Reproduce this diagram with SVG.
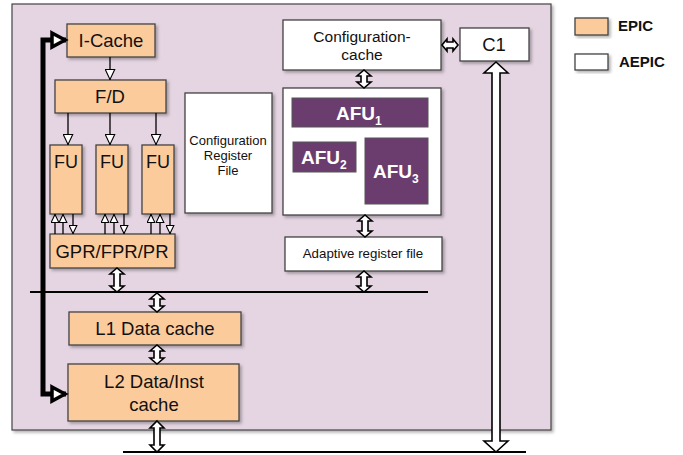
<svg xmlns="http://www.w3.org/2000/svg" width="683" height="455" viewBox="0 0 683 455">
<defs>
<filter id="sh" x="-10%" y="-10%" width="130%" height="130%">
<feDropShadow dx="2" dy="2" stdDeviation="1.5" flood-color="#000" flood-opacity="0.3"/>
</filter>
<marker id="tri" viewBox="0 0 10 10" refX="10" refY="5" markerWidth="11" markerHeight="11" markerUnits="userSpaceOnUse" orient="auto">
<path d="M0.5,0.7 L9.5,5 L0.5,9.3 Z" fill="#fff" stroke="#000" stroke-width="1"/>
</marker>
<marker id="trs" viewBox="0 0 10 10" refX="10" refY="5" markerWidth="9" markerHeight="9" markerUnits="userSpaceOnUse" orient="auto">
<path d="M0.5,0.7 L9.5,5 L0.5,9.3 Z" fill="#fff" stroke="#000" stroke-width="1.2"/>
</marker>
</defs>
<style>
.bg{fill:#E5D5E2;stroke:#444;stroke-width:1.2}
.epic{fill:#FCCB9C;stroke:#444;stroke-width:1.3}
.aepic{fill:#fff;stroke:#444;stroke-width:1.3}
.afu{fill:#6B3C6E;stroke:#555;stroke-width:1}
.t{font-family:"Liberation Sans",Arial,sans-serif;fill:#111;text-anchor:middle}
.w{font-family:"Liberation Sans",Arial,sans-serif;fill:#fff;font-weight:bold}
.b{font-family:"Liberation Sans",Arial,sans-serif;fill:#111;font-weight:bold}
.da{fill:#fff;stroke:#000;stroke-width:1.6;stroke-linejoin:miter}
.ln{stroke:#000;stroke-width:1.3;fill:none}
</style>
<rect class="bg" x="12" y="4" width="539" height="426" filter="url(#sh)"/>

<g id="icache"><rect class="epic" x="67" y="24" width="88" height="33" filter="url(#sh)"/><text class="t" x="111" y="47" font-size="18.5">I-Cache</text></g>
<g id="fd"><rect class="epic" x="55" y="80" width="111" height="33" filter="url(#sh)"/><text class="t" x="110" y="103" font-size="18.5">F/D</text></g>
<g id="fu1"><rect class="epic" x="50" y="145" width="32" height="69" filter="url(#sh)"/><text class="t" x="66" y="168" font-size="18">FU</text></g>
<g id="fu2"><rect class="epic" x="96" y="145" width="32" height="69" filter="url(#sh)"/><text class="t" x="112" y="168" font-size="18">FU</text></g>
<g id="fu3"><rect class="epic" x="142" y="145" width="32" height="69" filter="url(#sh)"/><text class="t" x="158" y="168" font-size="18">FU</text></g>
<g id="gpr"><rect class="epic" x="50" y="234" width="125" height="34" filter="url(#sh)"/><text class="t" x="112" y="258" font-size="18.5">GPR/FPR/PR</text></g>
<g id="l1"><rect class="epic" x="69" y="312" width="172" height="33" filter="url(#sh)"/><text class="t" x="155" y="335" font-size="18.5">L1 Data cache</text></g>
<g id="l2"><rect class="epic" x="68" y="364" width="171" height="57" filter="url(#sh)"/><text class="t" x="154" y="388" font-size="18.5">L2 Data/Inst</text><text class="t" x="154" y="411" font-size="18.5">cache</text></g>
<g id="crf"><rect class="aepic" x="185" y="93" width="87" height="120" filter="url(#sh)"/><text class="t" x="228" y="145" font-size="13">Configuration</text><text class="t" x="228" y="160" font-size="13">Register</text><text class="t" x="228" y="175" font-size="13">File</text></g>
<g id="ccache"><rect class="aepic" x="283" y="20" width="158" height="50" filter="url(#sh)"/><text class="t" x="362" y="42" font-size="15.5">Configuration-</text><text class="t" x="362" y="60" font-size="15.5">cache</text></g>
<g id="c1"><rect class="aepic" x="460" y="28" width="69" height="33" filter="url(#sh)"/><text class="t" x="494" y="51" font-size="18.5">C1</text></g>
<g id="afubox"><rect class="aepic" x="283" y="88" width="158" height="127" filter="url(#sh)"/></g>
<g id="afu1"><rect class="afu" x="292" y="98" width="136" height="29"/><text class="w" x="336" y="120" font-size="19">AFU<tspan font-size="12" dy="5">1</tspan></text></g>
<g id="afu2"><rect class="afu" x="293" y="142" width="63" height="30"/><text class="w" x="301" y="164" font-size="19">AFU<tspan font-size="12" dy="5">2</tspan></text></g>
<g id="afu3"><rect class="afu" x="365" y="138" width="63" height="66"/><text class="w" x="373" y="178" font-size="19">AFU<tspan font-size="12" dy="5">3</tspan></text></g>
<g id="arf"><rect class="aepic" x="285" y="237" width="157" height="34" filter="url(#sh)"/><text class="t" x="363" y="258" font-size="13.3">Adaptive register file</text></g>

<g id="legend">
<rect class="epic" x="575" y="18" width="33" height="17" filter="url(#sh)"/><text class="b" x="618" y="31" font-size="15">EPIC</text>
<rect class="aepic" x="575" y="54" width="33" height="16" filter="url(#sh)"/><text class="b" x="619" y="67" font-size="15">AEPIC</text>
</g>

<g id="connectors">
<line x1="30" y1="292" x2="428" y2="292" stroke="#000" stroke-width="2"/>
<line x1="123" y1="452" x2="526" y2="452" stroke="#000" stroke-width="2"/>
<line class="ln" x1="110" y1="57" x2="110" y2="80" marker-end="url(#tri)"/>
<line class="ln" x1="68" y1="113" x2="68" y2="145" marker-end="url(#tri)"/>
<line class="ln" x1="110" y1="113" x2="110" y2="145" marker-end="url(#tri)"/>
<line class="ln" x1="156" y1="113" x2="156" y2="145" marker-end="url(#tri)"/>
<line class="ln" x1="55" y1="234" x2="55" y2="214" marker-end="url(#trs)"/>
<line class="ln" x1="63" y1="234" x2="63" y2="214" marker-end="url(#trs)"/>
<line class="ln" x1="73" y1="214" x2="73" y2="234" marker-end="url(#trs)"/>
<line class="ln" x1="105" y1="234" x2="105" y2="214" marker-end="url(#trs)"/>
<line class="ln" x1="114" y1="234" x2="114" y2="214" marker-end="url(#trs)"/>
<line class="ln" x1="124" y1="214" x2="124" y2="234" marker-end="url(#trs)"/>
<line class="ln" x1="151" y1="234" x2="151" y2="214" marker-end="url(#trs)"/>
<line class="ln" x1="160" y1="234" x2="160" y2="214" marker-end="url(#trs)"/>
<line class="ln" x1="170" y1="214" x2="170" y2="234" marker-end="url(#trs)"/>
<path d="M66,40 L43,40 L43,394 L66,394" fill="none" stroke="#000" stroke-width="5"/>
<path d="M52,33 L65,40 L52,47 Z" fill="#fff" stroke="#000" stroke-width="3.5"/>
<path d="M52,387 L65,394 L52,401 Z" fill="#fff" stroke="#000" stroke-width="3.5"/>
<path class="da" d="M117,268 L124,274 L120,274 L120,286 L124,286 L117,292 L110,286 L114,286 L114,274 L110,274 Z"/>
<path class="da" d="M157,293 L164,299 L160,299 L160,306 L164,306 L157,312 L150,306 L154,306 L154,299 L150,299 Z"/>
<path class="da" d="M157,345 L164,351 L160,351 L160,358 L164,358 L157,364 L150,358 L154,358 L154,351 L150,351 Z"/>
<path class="da" d="M157,421 L164,428 L160,428 L160,445 L164,445 L157,452 L150,445 L154,445 L154,428 L150,428 Z"/>
<path class="da" d="M364,70 L371,76 L367,76 L367,82 L371,82 L364,88 L357,82 L361,82 L361,76 L357,76 Z"/>
<path class="da" d="M365,215 L372,221 L368,221 L368,231 L372,231 L365,237 L358,231 L362,231 L362,221 L358,221 Z"/>
<path class="da" d="M364,271 L371,277 L367,277 L367,286 L371,286 L364,292 L357,286 L361,286 L361,277 L357,277 Z"/>
<path class="da" d="M442,45 L447,39 L447,42 L453,42 L453,39 L458,45 L453,51 L453,48 L447,48 L447,51 Z"/>
<path class="da" d="M496,62 L508,73 L500,73 L500,441 L508,441 L496,452 L484,441 L492,441 L492,73 L484,73 Z"/>
</g>
</svg>
